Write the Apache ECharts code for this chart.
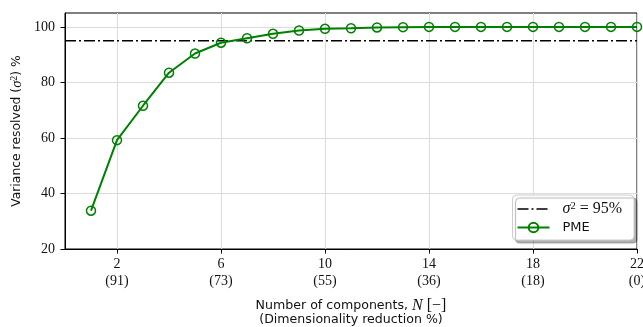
<!DOCTYPE html>
<html>
<head>
<meta charset="utf-8">
<script src="https://cdn.jsdelivr.net/npm/echarts@6/dist/echarts.min.js"></script>
<style>
  html, body { margin: 0; padding: 0; background: #fff; }
  #chart { width: 643px; height: 327px; }
</style>
</head>
<body>
<div id="chart"></div>
<script>
// Number of retained components
const components = [1, 2, 3, 4, 5, 6, 7, 8, 9, 10, 11, 12, 13, 14, 15, 16, 17, 18, 19, 20, 21, 22];
// Cumulative variance resolved by PME (%)
const pmeVariance = [33.8, 59.2, 71.6, 83.5, 90.4, 94.3, 95.9, 97.5, 98.7, 99.3, 99.5, 99.8, 99.9, 100, 100, 100, 100, 100, 100, 100, 100, 100];
// Threshold level and the x range it spans
const thresholdLevel = 95;
const xRange = [0, 22];
const yRange = [20, 105];
// Axis ticks and their dimensionality-reduction annotations
const xTicks = [2, 6, 10, 14, 18, 22];
const reductionLabels = ['91', '73', '55', '36', '18', '0'];
const yTicks = [20, 40, 60, 80, 100];

const serif = 'Liberation Serif';
const sans = 'DejaVu Sans';
const green = '#008000';
const dashDot = [11, 3, 2, 3];

const chart = echarts.init(document.getElementById('chart'));

chart.setOption({
  animation: false,
  backgroundColor: '#fff',
  grid: {
    left: 65, right: 6, top: 13, bottom: 78,
    outerBoundsMode: 'none',
    containLabel: false,
    show: true, borderColor: '#000', borderWidth: 1
  },
  xAxis: {
    type: 'value',
    min: xRange[0], max: xRange[1],
    axisLine: { show: true, lineStyle: { color: '#000', width: 1 } },
    axisTick: { show: true, customValues: xTicks, length: 4.5, inside: false, lineStyle: { color: '#000', width: 1 } },
    splitLine: { show: true, customValues: xTicks, lineStyle: { color: '#dcdcdc', width: 1 } },
    axisLabel: {
      customValues: xTicks,
      margin: 7,
      fontFamily: serif, fontSize: 14, color: '#111', lineHeight: 17,
      formatter: function (v) {
        const i = xTicks.indexOf(v);
        return v + '\n(' + reductionLabels[i] + ')';
      }
    },
    name: 'Number of components, {m|N} {b|[−]}\n(Dimensionality reduction %)',
    nameLocation: 'middle',
    nameGap: 50,
    nameTextStyle: {
      fontFamily: sans, fontSize: 12.6, color: '#111', lineHeight: 14,
      rich: {
        m: { fontFamily: serif, fontStyle: 'italic', fontSize: 16, color: '#111' },
        b: { fontFamily: serif, fontSize: 16, color: '#111' }
      }
    }
  },
  yAxis: {
    type: 'value',
    min: yRange[0], max: yRange[1],
    axisLine: { show: true, lineStyle: { color: '#000', width: 1 } },
    axisTick: { show: true, customValues: yTicks, length: 4.5, lineStyle: { color: '#000', width: 1 } },
    splitLine: { show: true, customValues: yTicks, lineStyle: { color: '#dcdcdc', width: 1 } },
    axisLabel: {
      customValues: yTicks,
      margin: 10,
      fontFamily: serif, fontSize: 14, color: '#111'
    },
    name: 'Variance resolved ({m|σ}{s|2}) %',
    nameLocation: 'middle',
    nameGap: 40,
    nameMoveOverlap: false,
    nameTextStyle: {
      fontFamily: sans, fontSize: 12.4, color: '#111', lineHeight: 16,
      rich: {
        m: { fontFamily: serif, fontStyle: 'italic', fontSize: 14.5, color: '#111', lineHeight: 16 },
        s: { fontFamily: serif, fontSize: 10, color: '#111', verticalAlign: 'top', lineHeight: 10 }
      }
    }
  },
  legend: {
    data: [
      { name: 'σ² = 95%', itemStyle: { opacity: 0 }, lineStyle: { type: dashDot, width: 1.5, color: '#000' } },
      { name: 'PME' }
    ],
    orient: 'vertical',
    right: 9, top: 195,
    itemWidth: 32, itemHeight: 12, itemGap: 4,
    padding: [6, 12, 6, 4],
    backgroundColor: '#fff',
    borderColor: '#cccccc', borderWidth: 1, borderRadius: 4,
    shadowColor: 'rgba(0,0,0,0.3)', shadowBlur: 1, shadowOffsetX: 3, shadowOffsetY: 3,
    textStyle: {
      fontFamily: sans, fontSize: 13, color: '#111',
      rich: {
        m: { fontFamily: serif, fontStyle: 'italic', fontSize: 16, color: '#111', padding: [0, 0, 0, 8], lineHeight: 16 },
        s: { fontFamily: serif, fontSize: 10.5, color: '#111', verticalAlign: 'top', lineHeight: 10 },
        r: { fontFamily: serif, fontSize: 16, color: '#111', lineHeight: 16 },
        t: { fontFamily: sans, fontSize: 13, color: '#111', padding: [0, 0, 0, 8] }
      }
    },
    formatter: function (name) {
      if (name === 'PME') return '{t|PME}';
      return '{m|σ}{s|2}{r| = 95%}';
    }
  },
  series: [
    {
      name: 'σ² = 95%',
      type: 'line',
      data: xRange.map(function (x) { return [x, thresholdLevel]; }),
      symbol: 'none',
      lineStyle: { color: '#000', width: 1.5, type: dashDot },
      itemStyle: { color: '#000' },
      z: 3
    },
    {
      name: 'PME',
      type: 'line',
      data: components.map(function (n, i) { return [n, pmeVariance[i]]; }),
      symbol: 'circle',
      symbolSize: 9,
      showAllSymbol: true,
      lineStyle: { color: green, width: 2 },
      itemStyle: { color: 'rgba(0,0,0,0)', borderColor: green, borderWidth: 1.5 },
      z: 4
    }
  ]
});
</script>
</body>
</html>
